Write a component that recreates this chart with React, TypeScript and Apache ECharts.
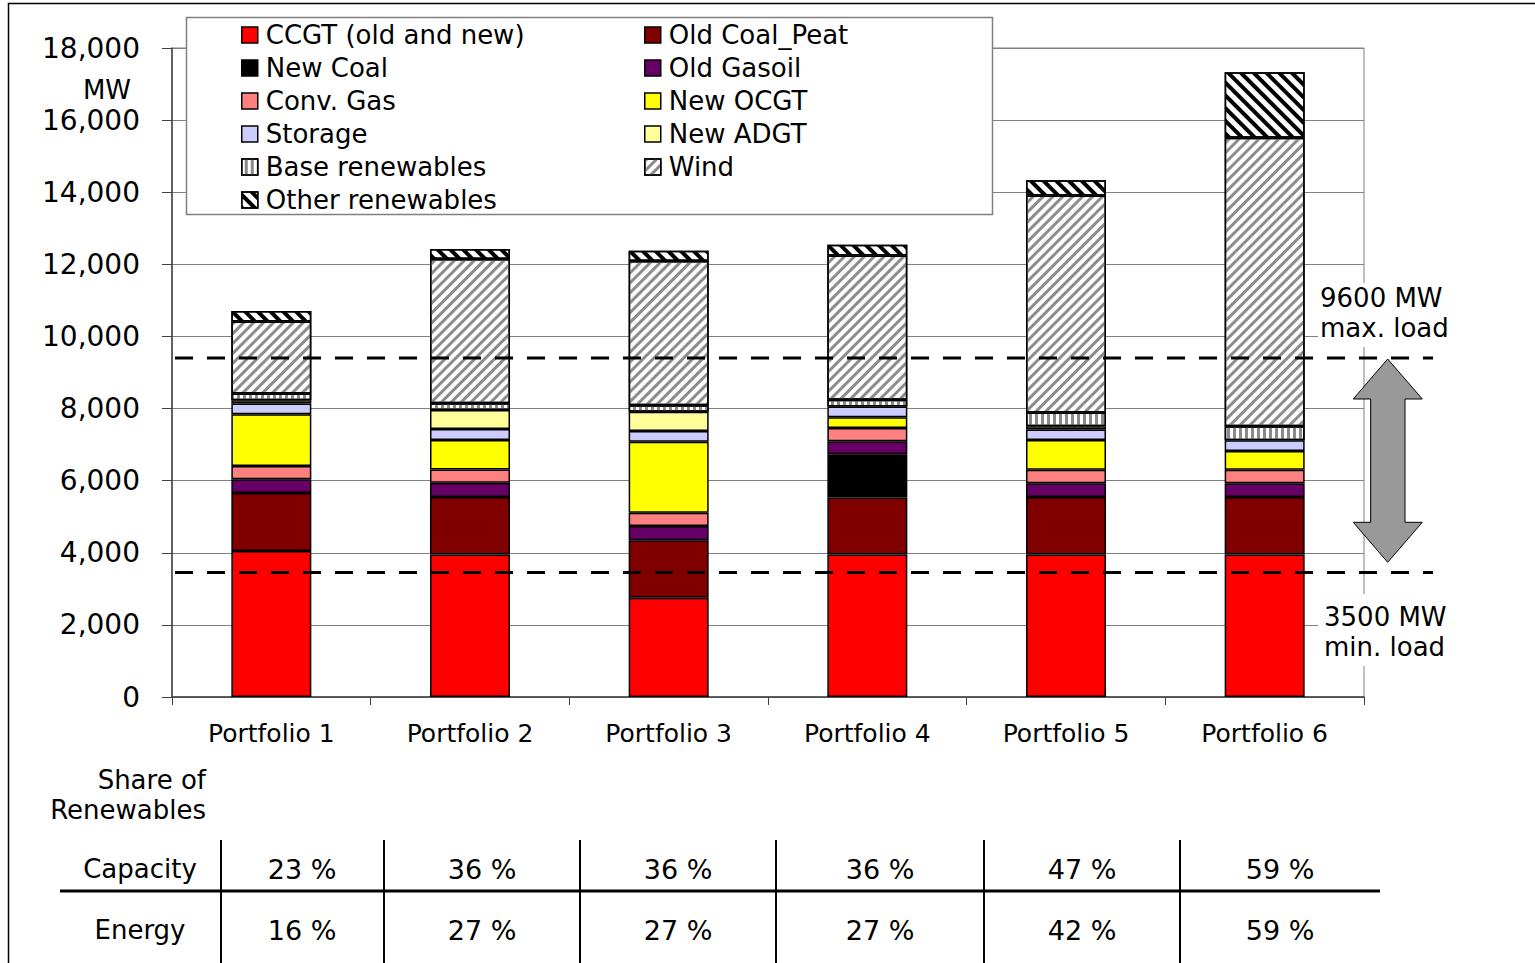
import React, { useEffect, useRef } from 'react';
import * as echarts from 'echarts';

// ---------- data ----------
const categories = ['Portfolio 1', 'Portfolio 2', 'Portfolio 3', 'Portfolio 4', 'Portfolio 5', 'Portfolio 6'];
const ccgt = [4050, 3950, 2750, 3950, 3950, 3950];
const oldCoalPeat = [1610, 1600, 1600, 1580, 1600, 1600];
const newCoal = [0, 0, 0, 1200, 0, 0];
const oldGasoil = [380, 390, 390, 360, 380, 380];
const convGas = [370, 370, 370, 370, 370, 370];
const newOcgt = [1430, 820, 1970, 300, 830, 520];
const storage = [300, 300, 300, 300, 290, 300];
const newAdgt = [90, 530, 530, 0, 90, 0];
const baseRenewables = [185, 185, 180, 185, 380, 390];
const wind = [2000, 4000, 4000, 4000, 6020, 8000];
const otherRenewables = [290, 280, 290, 300, 420, 1820];

const yMaxValue = 18000;
const yInterval = 2000;
const yUnit = 'MW';

const maxLoadLine = 9400;
const minLoadLine = 3450;
const maxLoadLabel = ['9600 MW', 'max. load'];
const minLoadLabel = ['3500 MW', 'min. load'];

const shareTitle = ['Share of', 'Renewables'];
const shareRowNames = ['Capacity', 'Energy'];
const capacityShare = [23, 36, 36, 36, 47, 59];
const energyShare = [16, 27, 27, 27, 42, 59];

// ---------- styling ----------
const FONT = '"DejaVu Sans", Verdana, sans-serif';

const seriesDefs: any[] = [
  { name: 'CCGT (old and new)', data: ccgt, color: '#FF0000' },
  { name: 'Old Coal_Peat', data: oldCoalPeat, color: '#800000' },
  { name: 'New Coal', data: newCoal, color: '#000000' },
  { name: 'Old Gasoil', data: oldGasoil, color: '#660066' },
  { name: 'Conv. Gas', data: convGas, color: '#FF8080' },
  { name: 'New OCGT', data: newOcgt, color: '#FFFF00' },
  { name: 'Storage', data: storage, color: '#CCCCFF' },
  { name: 'New ADGT', data: newAdgt, color: '#FFFF99' },
  {
    name: 'Base renewables', data: baseRenewables, color: '#FFFFFF',
    decal: { symbol: 'rect', symbolSize: 1, dashArrayX: [1, 0], dashArrayY: [3, 3], rotation: Math.PI / 2, color: '#8a8a8a' },
  },
  {
    name: 'Wind', data: wind, color: '#FFFFFF',
    decal: { symbol: 'rect', symbolSize: 1, dashArrayX: [1, 0], dashArrayY: [3, 4], rotation: -Math.PI / 4, color: '#8c8c8c' },
  },
  {
    name: 'Other renewables', data: otherRenewables, color: '#FFFFFF',
    decal: { symbol: 'rect', symbolSize: 1, dashArrayX: [1, 0], dashArrayY: [4, 5], rotation: Math.PI / 4, color: '#000000' },
  },
];

const leftLegend = ['CCGT (old and new)', 'New Coal', 'Conv. Gas', 'Storage', 'Base renewables', 'Other renewables'];
const rightLegend = ['Old Coal_Peat', 'Old Gasoil', 'New OCGT', 'New ADGT', 'Wind'];

function legendCfg(data: string[], left: number) {
  return {
    data,
    orient: 'vertical',
    left,
    top: 22,
    padding: 0,
    icon: 'rect',
    itemWidth: 16,
    itemHeight: 16,
    itemGap: 7,
    selectedMode: false,
    z: 6,
    itemStyle: { borderColor: '#000', borderWidth: 1.5 },
    textStyle: { fontSize: 26, fontFamily: FONT, color: '#000', padding: [0, 0, 0, 3] },
  };
}

function text(x: number, y: number, t: string, align: string, size = 26) {
  return {
    type: 'text', x, y, z: 12, silent: true,
    style: { text: t, fontSize: size, fontFamily: FONT, fill: '#000', align, verticalAlign: 'middle' },
  };
}

function buildGraphics(yMaxLoad: number, yMinLoad: number) {
  const els: any[] = [];
  // outer frame
  els.push({ type: 'rect', z: 1, silent: true, shape: { x: 8.5, y: 3.5, width: 1600, height: 1100 }, style: { fill: 'none', stroke: '#000', lineWidth: 1.5 } });
  // legend box
  els.push({ type: 'rect', z: 4, silent: true, shape: { x: 186.5, y: 17.5, width: 806, height: 197 }, style: { fill: '#fff', stroke: '#808080', lineWidth: 1.5 } });
  // MW unit
  els.push(text(107, 90, yUnit, 'center', 26));
  // load label backgrounds
  els.push({ type: 'rect', z: 8, silent: true, shape: { x: 1318, y: 283, width: 145, height: 64 }, style: { fill: '#fff' } });
  els.push({ type: 'rect', z: 8, silent: true, shape: { x: 1318, y: 594, width: 145, height: 72 }, style: { fill: '#fff' } });
  els.push(text(1320, 298, maxLoadLabel[0], 'left'));
  els.push(text(1320, 328, maxLoadLabel[1], 'left'));
  els.push(text(1324, 617, minLoadLabel[0], 'left'));
  els.push(text(1324, 647, minLoadLabel[1], 'left'));
  // dashed load lines
  [yMaxLoad, yMinLoad].forEach((y) => {
    els.push({ type: 'line', z: 10, silent: true, shape: { x1: 175, y1: y, x2: 1433, y2: y }, style: { stroke: '#000', lineWidth: 3, lineDash: [18, 14] } });
  });
  // double arrow
  els.push({
    type: 'polygon', z: 11, silent: true,
    shape: {
      points: [
        [1387.7, 359], [1422.3, 399], [1405, 399], [1405, 522.3], [1422.3, 522.3],
        [1387.7, 562.3], [1353.3, 522.3], [1370.7, 522.3], [1370.7, 399], [1353.3, 399],
      ],
    },
    style: { fill: '#999999', stroke: '#000', lineWidth: 1 },
  });
  // share table
  els.push(text(206, 780, shareTitle[0], 'right'));
  els.push(text(206, 810, shareTitle[1], 'right'));
  els.push({ type: 'line', z: 5, silent: true, shape: { x1: 60, y1: 891, x2: 1380, y2: 891 }, style: { stroke: '#000', lineWidth: 3 } });
  const colLines = [221, 384, 580, 776, 984, 1180];
  colLines.forEach((x) => {
    els.push({ type: 'line', z: 5, silent: true, shape: { x1: x, y1: 840, x2: x, y2: 970 }, style: { stroke: '#000', lineWidth: 2 } });
  });
  const colCenters = [302, 482, 678, 880, 1082, 1280];
  els.push(text(140, 869, shareRowNames[0], 'center'));
  els.push(text(140, 930, shareRowNames[1], 'center'));
  capacityShare.forEach((v, i) => els.push(text(colCenters[i], 869, `${v} %`, 'center', 27)));
  energyShare.forEach((v, i) => els.push(text(colCenters[i], 930, `${v} %`, 'center', 27)));
  return els;
}

export default function App() {
  const ref = useRef<HTMLDivElement>(null);
  useEffect(() => {
    if (!ref.current) return;
    const chart = echarts.init(ref.current, null, { renderer: 'svg' });
    const option: any = {
      animation: false,
      backgroundColor: '#ffffff',
      grid: {
        left: 172, right: 171, top: 48, bottom: 266,
        show: true, borderColor: '#808080', borderWidth: 1, backgroundColor: 'transparent',
      },
      legend: [legendCfg(leftLegend, 241), legendCfg(rightLegend, 644)],
      xAxis: {
        type: 'category',
        data: categories,
        axisLine: { lineStyle: { color: '#404040', width: 1.5 } },
        axisTick: { show: true, length: 8, lineStyle: { color: '#404040' } },
        axisLabel: { fontSize: 25, fontFamily: FONT, color: '#000', margin: 24 },
        splitLine: { show: false },
      },
      yAxis: {
        type: 'value',
        min: 0,
        max: yMaxValue,
        interval: yInterval,
        axisLine: { show: true, lineStyle: { color: '#404040', width: 1.5 } },
        axisTick: { show: true, length: 10, lineStyle: { color: '#404040' } },
        axisLabel: {
          fontSize: 28, fontFamily: FONT, color: '#000', margin: 32,
          formatter: (v: number) => v.toLocaleString('en-US'),
        },
        splitLine: { show: true, lineStyle: { color: '#808080', width: 1 } },
      },
      series: seriesDefs.map((s) => ({
        type: 'bar',
        name: s.name,
        stack: 'total',
        barWidth: 80,
        data: s.data.map((v: number) => (v === 0 ? '-' : v)),
        itemStyle: {
          color: s.color,
          borderColor: '#000',
          borderWidth: 1.5,
          ...(s.decal ? { decal: s.decal } : {}),
        },
        emphasis: { disabled: true },
      })),
    };
    chart.setOption(option);
    const yMaxLoad = chart.convertToPixel({ yAxisIndex: 0 }, maxLoadLine) as unknown as number;
    const yMinLoad = chart.convertToPixel({ yAxisIndex: 0 }, minLoadLine) as unknown as number;
    chart.setOption({ graphic: { elements: buildGraphics(yMaxLoad, yMinLoad) } });
    return () => chart.dispose();
  }, []);
  return <div ref={ref} style={{ position: 'absolute', left: 0, top: 0, width: 1535, height: 963 }} />;
}
